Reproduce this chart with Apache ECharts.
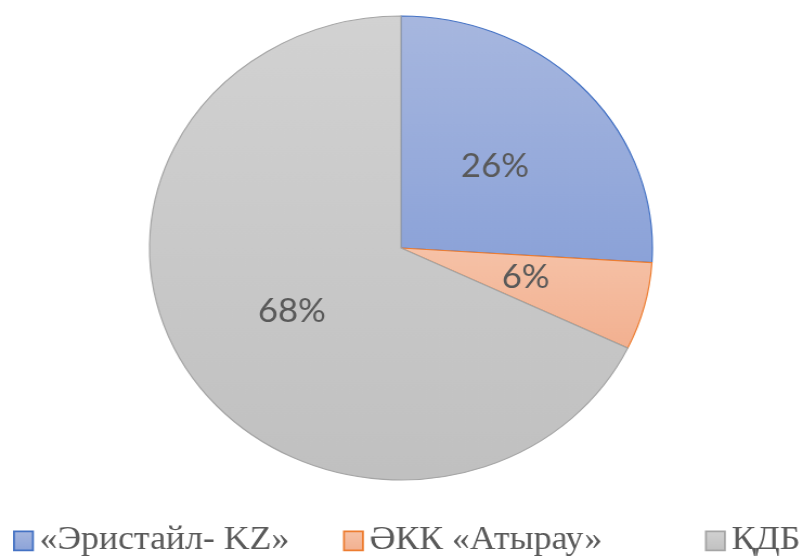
<!DOCTYPE html>
<html lang="ru">
<head>
<meta charset="UTF-8">
<title>Pie</title>
<script src="https://cdn.jsdelivr.net/npm/echarts@6/dist/echarts.min.js"></script>
<style>
  html, body { margin: 0; padding: 0; background: #fff; overflow: hidden; }
  /* the reference picture is stretched a little wider than tall */
  #main { width: 741px; height: 558px; transform: scaleX(1.0837); transform-origin: 0 0; }
</style>
</head>
<body>
<div id="main"></div>
<script>
// data
var names = ['«Эристайл- KZ»', 'ӘКК «Атырау»', 'ҚДБ'];
var values = [26.0, 6.1, 67.9];

var fills = [
    ['#a7b7df', '#8ba2d8'],
    ['#f6c2a7', '#f2b090'],
    ['#d2d2d2', '#c0c0c0']
];
var borders = ['#4472c4', '#ed7d31', '#a5a5a5'];
// legend drawn by hand so the font and spacing match
var legendLeft = [12, 316.5, 650.5];

function grad(c) {
    return new echarts.graphic.LinearGradient(0, 0, 0, 1, [
        { offset: 0, color: c[0] },
        { offset: 1, color: c[1] }
    ]);
}

var pieData = [];
var legendItems = [];
for (var i = 0; i < names.length; i++) {
    pieData.push({
        name: names[i],
        value: values[i],
        itemStyle: { color: grad(fills[i]), borderColor: borders[i], borderWidth: 1.2 }
    });
    legendItems.push({
        type: 'rect',
        left: legendLeft[i],
        top: 530.5,
        shape: { width: 17.5, height: 19 },
        style: { fill: grad(fills[i]), stroke: borders[i], lineWidth: 1.8 }
    });
    legendItems.push({
        type: 'text',
        left: legendLeft[i] + 24.5,
        top: 524,
        style: {
            text: names[i],
            fontFamily: 'Liberation Serif, DejaVu Serif, serif',
            fontSize: 33,
            fill: '#595959'
        }
    });
}

var myChart = echarts.init(document.getElementById('main'), null, { renderer: 'canvas' });
myChart.setOption({
    animation: false,
    graphic: legendItems,
    series: [{
        type: 'pie',
        center: [370, 248],
        radius: 232,
        startAngle: 90,
        clockwise: true,
        silent: true,
        data: pieData,
        label: {
            show: true,
            position: 'inside',
            fontFamily: 'Lato',
            fontSize: 32,
            color: '#595959',
            formatter: function (p) { return Math.round(p.percent) + '%'; }
        },
        labelLine: { show: false }
    }]
});
</script>
</body>
</html>
